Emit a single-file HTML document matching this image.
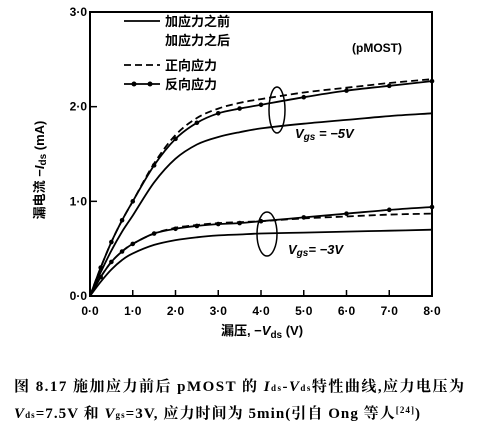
<!DOCTYPE html>
<html><head><meta charset="utf-8">
<style>
body{margin:0;background:#fff;width:477px;height:426px;overflow:hidden}
svg{font-family:"Liberation Sans","Noto Sans CJK SC",sans-serif}
</style></head><body>
<svg id="chart" width="477" height="426" xmlns="http://www.w3.org/2000/svg"></svg>
<script>
const xs = [0,0.25,0.5,0.75,1,1.5,2,2.5,3,3.5,4,5,6,7,8];
const vgs5Before = [0,0.25,0.48,0.68,0.85,1.2,1.45,1.6,1.68,1.73,1.77,1.82,1.86,1.9,1.93];
const vgs5Fwd = [0,0.3,0.57,0.8,1.0,1.4,1.7,1.88,1.98,2.04,2.08,2.15,2.2,2.25,2.29];
const vgs5Rev = [0,0.3,0.57,0.8,1.0,1.38,1.66,1.83,1.93,1.98,2.02,2.1,2.17,2.22,2.27];
const vgs3Before = [0,0.15,0.28,0.38,0.45,0.54,0.59,0.62,0.64,0.65,0.66,0.67,0.68,0.69,0.70];
const vgs3Fwd = [0,0.2,0.36,0.47,0.55,0.66,0.72,0.75,0.77,0.78,0.79,0.82,0.84,0.86,0.87];
const vgs3Rev = [0,0.2,0.36,0.47,0.55,0.66,0.71,0.74,0.76,0.77,0.79,0.83,0.87,0.91,0.94];
const xTicks = ["0·0","1·0","2·0","3·0","4·0","5·0","6·0","7·0","8·0"];
const yTicks = ["0·0","1·0","2·0","3·0"];
const NS="http://www.w3.org/2000/svg";
const svg=document.getElementById('chart');
const X0=90,X1=432,Y0=296,Y1=12;
const sx=v=>X0+(X1-X0)*v/8, sy=v=>Y0-(Y0-Y1)*v/3;
function mk(t,a){const e=document.createElementNS(NS,t);for(const k in a)e.setAttribute(k,a[k]);svg.appendChild(e);return e;}
const frame=mk('rect',{x:X0,y:Y1,width:X1-X0,height:Y0-Y1,fill:'none',stroke:'#000','stroke-width':2});


xTicks.forEach((t,i)=>{
 const l=mk('line',{x1:sx(i),x2:sx(i),y1:Y0,y2:Y0-6,stroke:'#000','stroke-width':1.5});
 
 
 const tx=mk('text',{x:sx(i),y:Y0+19,'text-anchor':'middle','font-size':12,'font-weight':'bold'});tx.textContent=t;
 
 
});
yTicks.forEach((t,i)=>{
 const l=mk('line',{x1:X0,x2:X0+7,y1:sy(i),y2:sy(i),stroke:'#000','stroke-width':1.5});
 
 
 const tx=mk('text',{x:X0-3,y:sy(i)+4,'text-anchor':'end','font-size':12,'font-weight':'bold'});tx.textContent=t;
 
 
});
function pathD(ys){
 const P=xs.map((x,i)=>[sx(x),sy(ys[i])]);
 let d='M'+P[0][0].toFixed(1)+' '+P[0][1].toFixed(1);
 for(let i=0;i<P.length-1;i++){
  const p0=P[Math.max(0,i-1)],p1=P[i],p2=P[i+1],p3=P[Math.min(P.length-1,i+2)];
  const c1=[p1[0]+(p2[0]-p0[0])/6,p1[1]+(p2[1]-p0[1])/6];
  const c2=[p2[0]-(p3[0]-p1[0])/6,p2[1]-(p3[1]-p1[1])/6];
  d+=' C'+c1.map(v=>v.toFixed(1)).join(' ')+' '+c2.map(v=>v.toFixed(1)).join(' ')+' '+p2.map(v=>v.toFixed(1)).join(' ');
 }
 return d;
}
function series(ys,name,dash,dots){
 const p=mk('path',{d:pathD(ys),fill:'none',stroke:'#000','stroke-width':1.8});
 if(dash)p.setAttribute('stroke-dasharray','7 4');
 
 
 if(dots)xs.forEach((x,i)=>{if(i==0)return;const c=mk('circle',{cx:sx(x),cy:sy(ys[i]),r:2.3,fill:'#000'});
  
  });
}
series(vgs5Before,'vgs5-before',false,false);
series(vgs5Fwd,'vgs5-forward',true,false);
series(vgs5Rev,'vgs5-reverse',false,true);
series(vgs3Before,'vgs3-before',false,false);
series(vgs3Fwd,'vgs3-forward',true,false);
series(vgs3Rev,'vgs3-reverse',false,true);
</script>
<svg width="477" height="426" style="position:absolute;left:0;top:0" xmlns="http://www.w3.org/2000/svg" font-family="Liberation Sans, Noto Sans CJK SC, sans-serif">
<g font-size="13" font-weight="bold">
<line x1="124" y1="21" x2="160" y2="21" stroke="#000" stroke-width="1.8"/>
<text x="165" y="26">加应力之前</text>
<text x="165" y="45">加应力之后</text>
<line x1="124" y1="65" x2="160" y2="65" stroke="#000" stroke-width="1.8" stroke-dasharray="7 4"/>
<text x="165" y="70">正向应力</text>
<line x1="124" y1="84" x2="160" y2="84" stroke="#000" stroke-width="1.8"/>
<circle cx="134" cy="84" r="2.5"/><circle cx="150" cy="84" r="2.5"/>
<text x="165" y="89">反向应力</text>
</g>
<text x="352" y="52" font-size="12" font-weight="bold">(pMOST)</text>
<ellipse cx="277" cy="110" rx="8" ry="23" fill="none" stroke="#000" stroke-width="1.5"/>
<text x="295" y="138" font-size="13" font-weight="bold" font-style="italic">V<tspan font-size="10" dy="2">gs</tspan><tspan dy="-2"> = −5V</tspan></text>
<ellipse cx="267" cy="234" rx="10" ry="22" fill="none" stroke="#000" stroke-width="1.5"/>
<text x="288" y="254" font-size="13" font-weight="bold" font-style="italic">V<tspan font-size="10" dy="2">gs</tspan><tspan dy="-2">= −3V</tspan></text>
<text transform="translate(44,170) rotate(-90)" text-anchor="middle" font-size="13" font-weight="bold">漏电流 −<tspan font-style="italic">I</tspan><tspan font-size="10" dy="2">ds</tspan><tspan dy="-2"> (mA)</tspan></text>
<text x="262" y="335" text-anchor="middle" font-size="13" font-weight="bold">漏压, −<tspan font-style="italic">V</tspan><tspan font-size="10" dy="3">ds</tspan><tspan dy="-3"> (V)</tspan></text>
<text x="14" y="391" font-size="15" textLength="450" lengthAdjust="spacing" font-family="Liberation Serif, Noto Serif CJK SC, serif" font-weight="bold">图 8.17   施加应力前后 pMOST 的 <tspan font-style="italic">I</tspan><tspan font-size="9">ds</tspan>-<tspan font-style="italic">V</tspan><tspan font-size="9">ds</tspan>特性曲线,应力电压为</text>
<text x="14" y="418" font-size="15" textLength="406" lengthAdjust="spacing" font-family="Liberation Serif, Noto Serif CJK SC, serif" font-weight="bold"><tspan font-style="italic">V</tspan><tspan font-size="9">ds</tspan>=7.5V 和 <tspan font-style="italic">V</tspan><tspan font-size="9">gs</tspan>=3V, 应力时间为 5min(引自 Ong 等人<tspan font-size="9" dy="-5">[24]</tspan><tspan dy="5">)</tspan></text>
</svg>
</body></html>
